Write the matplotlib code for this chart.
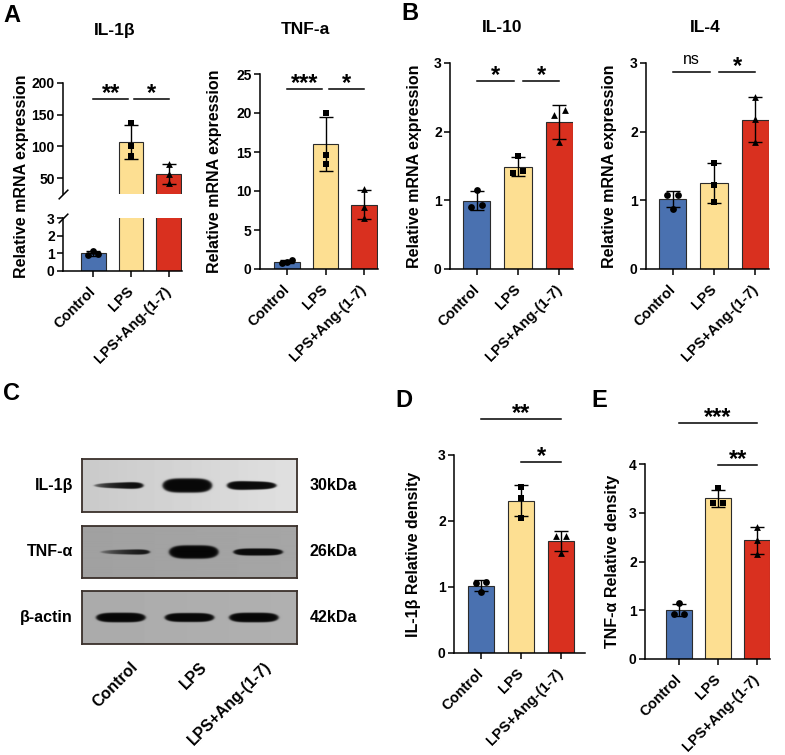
import matplotlib
matplotlib.use("Agg")
from matplotlib import pyplot as plt
import numpy as np

plt.rcParams['font.family'] = ['Liberation Sans', 'DejaVu Sans']
plt.rcParams['font.weight'] = 'bold'
plt.rcParams['axes.labelweight'] = 'bold'
plt.rcParams['axes.linewidth'] = 1.1

W, H = 785, 755

groups = ["Control", "LPS", "LPS+Ang-(1-7)"]
colors = ["#4a71b0", "#fddf92", "#d9301f"]
markers = ["o", "s", "^"]

# qPCR replicates (mRNA, relative to control)
il1b_mrna = [[1.15, 0.88, 0.97], [137, 100, 85], [73, 56, 42]]
tnfa_mrna = [[1.1, 0.8, 0.95], [20.0, 14.6, 13.5], [10.3, 8.0, 6.5]]
il10_mrna = [[1.15, 0.93, 0.9], [1.65, 1.4, 1.42], [2.32, 2.25, 1.85]]
il4_mrna = [[1.08, 1.08, 0.88], [1.55, 1.22, 0.97], [2.5, 2.18, 1.85]]

# western blot densitometry
il1b_density = [[1.07, 1.06, 0.92], [2.52, 2.35, 2.05], [1.78, 1.78, 1.52]]
tnfa_density = [[1.15, 0.93, 0.93], [3.5, 3.2, 3.2], [2.7, 2.45, 2.15]]

# blot rows, band signal at left / right end of each band
blot_rows = ["IL-1β", "TNF-α", "β-actin"]
blot_kda = ["30kDa", "26kDa", "42kDa"]
band_left = [[0.6, 9.5, 5.5], [0.3, 9.0, 3.5], [5.5, 5.0, 5.5]]
band_right = [[4.0, 9.5, 3.5], [2.5, 9.0, 3.5], [5.5, 5.0, 5.5]]
blot_bg = [(0.79, 0.88), (0.63, 0.65), (0.67, 0.69)]


def px_axes(fig, left, top, right, bottom):
    return fig.add_axes([left / W, 1 - bottom / H, (right - left) / W, (bottom - top) / H])


def swarm(vals, thr, step=0.13):
    vals = np.asarray(vals, float)
    order = np.argsort(vals)
    offs = np.zeros(len(vals))
    clusters = [[order[0]]]
    for k in order[1:]:
        if vals[k] - vals[clusters[-1][-1]] < thr:
            clusters[-1].append(k)
        else:
            clusters.append([k])
    for c in clusters:
        n = len(c)
        if n > 1:
            for j, k in enumerate(c):
                offs[k] = (j - (n - 1) / 2) * 2 * step / (n - 1)
    return offs


def style(ax, ylim, yticks, xlim):
    ax.set_ylim(*ylim)
    ax.set_xlim(*xlim)
    ax.set_yticks(yticks)
    ax.spines['top'].set_visible(False)
    ax.spines['right'].set_visible(False)
    ax.tick_params(direction='out', length=4, width=1.1, labelsize=10, pad=2)


def bars(ax, values, thr):
    x = np.arange(3)
    means = [np.mean(v) for v in values]
    sds = [np.std(v, ddof=1) for v in values]
    ax.bar(x, means, width=0.66, color=colors, edgecolor="#2b2b2b", linewidth=0.8, zorder=2)
    ax.errorbar(x, means, yerr=sds, fmt="none", ecolor="black", elinewidth=1.0,
                capsize=5, capthick=1.0, zorder=3)
    for i, v in enumerate(values):
        ax.scatter(i + swarm(v, thr), v, marker=markers[i], s=24, color="black", zorder=4, linewidths=0)


def xlabels(ax):
    ax.set_xticks(np.arange(3))
    ax.set_xticklabels(groups, rotation=45, ha='right', va='center', rotation_mode='anchor',
                       fontsize=10.5)
    ax.tick_params(axis='x', pad=9)


def sig(ax, x0, x1, y, label, dy=-1.0, size=17, weight='bold'):
    ax.plot([x0, x1], [y, y], color='black', lw=1.1, clip_on=False)
    ax.annotate(label, xy=((x0 + x1) / 2, y), xytext=(0, dy), textcoords='offset points',
                ha='center', va='baseline', fontsize=size, fontweight=weight, annotation_clip=False)


fig = plt.figure(figsize=(W / 100, H / 100), dpi=100)

# ---- A: IL-1b with broken axis
ax_up = px_axes(fig, 63, 83, 182, 194)
ax_lo = px_axes(fig, 63, 218, 182, 271)
for a in (ax_up, ax_lo):
    bars(a, il1b_mrna, 0.12 if a is ax_lo else 6)
style(ax_up, (25, 200), [50, 100, 150, 200], (-0.8, 2.35))
style(ax_lo, (0, 3), [0, 1, 2, 3], (-0.8, 2.35))
ax_up.spines['bottom'].set_visible(False)
ax_up.set_xticks([])
xlabels(ax_lo)
for a, yy in ((ax_up, 0), (ax_lo, 1)):
    a.plot([0], [yy], transform=a.transAxes, marker=[(-1, -1), (1, 1)], markersize=7,
           color='black', mew=1.1, clip_on=False, linestyle='none')
sig(ax_up, 0, 0.92, 175, "**")
sig(ax_up, 1.08, 2, 175, "*")
fig.text(22 / W, 1 - 176 / H, "Relative mRNA expression", rotation=90, ha='center', va='center',
         fontsize=11.5)
fig.text(115 / W, 1 - 30 / H, "IL-1β", ha='center', va='center', fontsize=12.5)

# ---- A: TNF-a
ax = px_axes(fig, 260, 74, 378, 269)
bars(ax, tnfa_mrna, 1.0)
style(ax, (0, 25), [0, 5, 10, 15, 20, 25], (-0.7, 2.36))
xlabels(ax)
sig(ax, 0, 0.92, 23.1, "***")
sig(ax, 1.08, 2, 23.1, "*")
ax.set_ylabel("Relative mRNA expression", fontsize=11.5)
ax.yaxis.set_label_coords((222 - 260) / 118, 0.5)
fig.text(305 / W, 1 - 30 / H, "TNF-a", ha='center', va='center', fontsize=12.5)

# ---- B: IL-10
ax = px_axes(fig, 450, 63, 573, 269)
bars(ax, il10_mrna, 0.12)
style(ax, (0, 3), [0, 1, 2, 3], (-0.65, 2.33))
xlabels(ax)
sig(ax, 0, 0.9, 2.74, "*")
sig(ax, 1.12, 2, 2.74, "*")
ax.set_ylabel("Relative mRNA expression", fontsize=11.5)
ax.yaxis.set_label_coords((422 - 450) / 123, 0.5)
fig.text(502 / W, 1 - 28 / H, "IL-10", ha='center', va='center', fontsize=12.5)

# ---- B: IL-4
ax = px_axes(fig, 646, 63, 769, 269)
bars(ax, il4_mrna, 0.12)
style(ax, (0, 3), [0, 1, 2, 3], (-0.65, 2.33))
xlabels(ax)
sig(ax, 0, 0.9, 2.87, "ns", dy=6, size=11.5, weight='normal')
sig(ax, 1.12, 2, 2.87, "*")
ax.set_ylabel("Relative mRNA expression", fontsize=11.5)
ax.yaxis.set_label_coords((617 - 646) / 123, 0.5)
fig.text(705 / W, 1 - 28 / H, "IL-4", ha='center', va='center', fontsize=12.5)

# ---- C: western blot
blot_boxes = [(82, 459, 297, 512), (82, 526, 297, 578), (82, 591, 297, 644)]
lane_shift = [-0.01, 0.02, 0.0]
nx, ny = 430, 106
X, Y = np.meshgrid(np.linspace(0, 1, nx), np.linspace(0, 1, ny))
for r, (l, t, rr, b) in enumerate(blot_boxes):
    bax = px_axes(fig, l, t, rr, b)
    bg = blot_bg[r][0] + (blot_bg[r][1] - blot_bg[r][0]) * X
    light = np.ones_like(X)
    for k, c in enumerate(np.array([0.18, 0.5, 0.8]) + lane_shift[r]):
        frac = np.clip((X - (c - 0.115)) / 0.23, 0, 1)
        s = band_left[r][k] + (band_right[r][k] - band_left[r][k]) * frac
        hh = 0.03 + 0.011 * s
        rr2 = (np.abs(X - c) / 0.115) ** 4 + ((Y - 0.5) / hh) ** 2
        shade = (1 - np.exp(-s)) / (1 + np.exp(-(1 - rr2) / 0.12))
        light *= 1 - 0.96 * shade
    bax.imshow(bg * light, cmap='gray', vmin=0, vmax=1, extent=[0, 1, 0, 1], aspect='auto',
               interpolation='bilinear')
    bax.set_xticks([])
    bax.set_yticks([])
    for sp in bax.spines.values():
        sp.set_color('#3a302b')
        sp.set_linewidth(1.3)
    yc = 1 - (t + b) / 2 / H
    fig.text(73 / W, yc, blot_rows[r], ha='right', va='center', fontsize=11.5)
    fig.text(310 / W, yc, blot_kda[r], ha='left', va='center', fontsize=11.5)
    if r == 2:
        for k, c in enumerate([0.18, 0.5, 0.8]):
            bax.annotate(groups[k], xy=(c, 0), xycoords='axes fraction', xytext=(7, -11),
                         textcoords='offset points', rotation=45, ha='right', va='top',
                         rotation_mode='anchor', fontsize=11.5)

# ---- D: IL-1b density
ax = px_axes(fig, 454, 455, 585, 653)
bars(ax, il1b_density, 0.12)
style(ax, (0, 3), [0, 1, 2, 3], (-0.68, 2.6))
xlabels(ax)
sig(ax, 0, 2, 3.55, "**")
sig(ax, 1, 2, 2.9, "*")
ax.set_ylabel("IL-1β Relative density", fontsize=11.5)
ax.yaxis.set_label_coords((421 - 454) / 131, 0.5)

# ---- E: TNF-a density
ax = px_axes(fig, 645, 464, 770, 659)
bars(ax, tnfa_density, 0.16)
style(ax, (0, 4), [0, 1, 2, 3, 4], (-0.87, 2.33))
xlabels(ax)
sig(ax, 0, 2, 4.84, "***")
sig(ax, 1, 2, 3.98, "**")
ax.set_ylabel("TNF-α Relative density", fontsize=11.5)
ax.yaxis.set_label_coords((620 - 645) / 125, 0.5)

# panel letters
for letter, (lx, ly) in zip("ABCDE", [(12, 15), (410, 14), (12, 393), (404, 400), (599, 400)]):
    fig.text(lx / W, 1 - ly / H, letter, ha='center', va='center', fontsize=17)

plt.savefig("out.png", dpi=100)
